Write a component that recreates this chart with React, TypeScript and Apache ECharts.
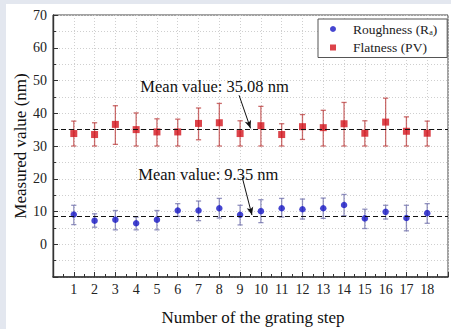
import React, { useEffect, useRef } from "react";
import * as echarts from "echarts";

const steps = [1, 2, 3, 4, 5, 6, 7, 8, 9, 10, 11, 12, 13, 14, 15, 16, 17, 18];
const flatness = [33.8, 33.5, 36.6, 35.0, 34.3, 34.3, 36.9, 37.1, 33.8, 36.2, 33.5, 35.9, 35.6, 36.8, 33.9, 37.3, 34.5, 33.9];
const flatnessHigh = [37.6, 37.1, 42.3, 40.1, 38.3, 38.2, 41.6, 43.0, 37.7, 42.1, 36.8, 39.6, 40.9, 43.3, 37.7, 44.6, 38.9, 37.6];
const flatnessLow = [30.0, 30.0, 30.5, 30.0, 30.0, 30.0, 31.9, 30.0, 30.0, 30.0, 30.0, 32.0, 30.0, 30.0, 30.0, 30.0, 30.0, 30.0];
const roughness = [9.1, 7.2, 7.5, 6.4, 7.5, 10.3, 10.3, 11.0, 9.0, 10.1, 11.0, 10.7, 11.0, 12.0, 7.9, 9.9, 8.0, 9.5];
const roughnessHigh = [11.9, 9.3, 10.3, 8.3, 10.3, 12.4, 13.2, 14.0, 11.9, 13.6, 14.0, 13.8, 14.1, 15.2, 10.7, 11.9, 11.9, 12.4];
const roughnessLow = [6.0, 5.2, 4.4, 4.4, 4.4, 8.5, 7.2, 8.0, 5.9, 6.6, 8.3, 7.7, 7.9, 8.7, 4.8, 7.7, 4.1, 6.4];

const flatMean = 35.08;
const roughMeanLine = 8.7;
const flatLabel = "Mean value: 35.08 nm";
const roughLabel = "Mean value: 9.35 nm";
const flatLabelPos = [4.2, 48.3];
const roughLabelPos = [4.1, 21.3];
const flatArrow = [[8.95, 45.5], [9.5, 35.4]];
const roughArrow = [[9.1, 20.5], [9.57, 8.9]];

const SERIF = "'Liberation Serif', 'DejaVu Serif', serif";

function errBar(color: string) {
  return (params: any, api: any) => {
    const x = api.value(0);
    const lo = api.value(1);
    const hi = api.value(2);
    const p1 = api.coord([x, hi]);
    const p2 = api.coord([x, lo]);
    const w = 2.6;
    const st = { stroke: color, lineWidth: 1.3 };
    return {
      type: "group",
      children: [
        { type: "line", shape: { x1: p1[0], y1: p1[1], x2: p2[0], y2: p2[1] }, style: st },
        { type: "line", shape: { x1: p1[0] - w, y1: p1[1], x2: p1[0] + w, y2: p1[1] }, style: st },
        { type: "line", shape: { x1: p2[0] - w, y1: p2[1], x2: p2[0] + w, y2: p2[1] }, style: st },
      ],
    };
  };
}

function meanMarks(value: number, arrow: number[][], labelPos: number[], label: string) {
  return {
    markLine: {
      silent: true,
      symbol: ["none", "none"],
      label: { show: false },
      data: [
        { yAxis: value, lineStyle: { color: "#111", type: [5, 3], width: 1.2 } },
        [
          { coord: arrow[0], symbol: "none", lineStyle: { color: "#111", type: "solid", width: 1 } },
          { coord: arrow[1], symbol: "arrow", symbolSize: [5, 8] },
        ],
      ],
    },
    markPoint: {
      silent: true,
      symbol: "circle",
      symbolSize: 0,
      data: [
        {
          coord: labelPos,
          label: {
            show: true,
            position: "right",
            distance: 0,
            formatter: label,
            fontSize: 16.5,
            fontFamily: SERIF,
            color: "#111",
          },
        },
      ],
    },
  };
}

export default function App() {
  const ref = useRef<HTMLDivElement>(null);
  useEffect(() => {
    const chart = echarts.init(ref.current!, null, { renderer: "svg" });
    const flatErrData = steps.map((s, i) => [s, flatnessLow[i], flatnessHigh[i]]);
    const roughErrData = steps.map((s, i) => [s, roughnessLow[i], roughnessHigh[i]]);
    chart.setOption({
      animation: false,
      backgroundColor: "#ffffff",
      grid: {
        left: 53,
        top: 15,
        width: 401,
        height: 262,
        show: true,
        borderColor: "#444",
        borderWidth: 1,
        backgroundColor: "#fff",
      },
      legend: {
        orient: "vertical",
        left: 318,
        top: 19,
        padding: [3, 10, 3, 12],
        itemGap: 4,
        itemWidth: 6,
        itemHeight: 6,
        borderColor: "#555",
        borderWidth: 1,
        backgroundColor: "#fff",
        data: ["Roughness (Ra)", "Flatness (PV)"],
        formatter: (name: string) =>
          name === "Roughness (Ra)" ? "{n|Roughness (R}{s|a}{n|)}" : "{n|Flatness (PV)}",
        textStyle: {
          padding: [0, 0, 0, 12],
          rich: {
            n: { fontSize: 13.5, fontFamily: SERIF, color: "#222", lineHeight: 16 },
            s: { fontSize: 8, fontFamily: SERIF, color: "#222", padding: [7, 0, 0, 0] },
          },
        },
      },
      xAxis: {
        type: "value",
        min: 0,
        max: 19,
        interval: 1,
        axisLine: { onZero: false, lineStyle: { color: "#333", width: 1.6 } },
        axisTick: { inside: true, length: 5, lineStyle: { color: "#333" } },
        minorTick: { show: true, splitNumber: 2, length: 3, lineStyle: { color: "#333" } },
        splitLine: { show: true, lineStyle: { color: "#cfcfcf", type: [1, 2] } },
        axisLabel: {
          margin: 5,
          fontSize: 14,
          fontFamily: SERIF,
          color: "#222",
          formatter: (v: number) => (v >= 1 && v <= 18 ? String(v) : ""),
        },
      },
      yAxis: {
        type: "value",
        min: -10,
        max: 70,
        interval: 10,
        axisLine: { show: true, lineStyle: { color: "#333", width: 1.4 } },
        axisTick: { show: true, inside: true, length: 5, lineStyle: { color: "#333" } },
        minorTick: { show: true, splitNumber: 2, length: 3, lineStyle: { color: "#333" } },
        splitLine: { show: true, lineStyle: { color: "#cfcfcf", type: [1, 2] } },
        minorSplitLine: { show: true, lineStyle: { color: "#cfcfcf", type: [1, 2] } },
        axisLabel: {
          margin: 6,
          fontSize: 14,
          fontFamily: SERIF,
          color: "#222",
          formatter: (v: number) => (v < 0 ? "" : String(v)),
        },
      },
      graphic: [
        { type: "rect", shape: { x: 0, y: 0, width: 6, height: 329 }, style: { fill: "#e3e7ef" }, z: 100 },
        { type: "rect", shape: { x: 0, y: 0, width: 451, height: 4 }, style: { fill: "#e3e7ef" }, z: 100 },
        {
          type: "text",
          x: 20,
          y: 146,
          rotation: Math.PI / 2,
          style: {
            text: "Measured value (nm)",
            align: "center",
            verticalAlign: "middle",
            fontSize: 17,
            fontFamily: SERIF,
            fill: "#111",
          },
        },
        {
          type: "text",
          x: 253,
          y: 317,
          style: {
            text: "Number of the grating step",
            align: "center",
            verticalAlign: "middle",
            fontSize: 17,
            fontFamily: SERIF,
            fill: "#111",
          },
        },
      ],
      series: [
        {
          type: "custom",
          name: "flatErr",
          renderItem: errBar("rgba(185,60,60,0.75)"),
          data: flatErrData,
          encode: { x: 0, y: [1, 2] },
          z: 2,
        },
        {
          type: "custom",
          name: "roughErr",
          renderItem: errBar("rgba(110,110,170,0.75)"),
          data: roughErrData,
          encode: { x: 0, y: [1, 2] },
          z: 2,
        },
        {
          type: "scatter",
          name: "Flatness (PV)",
          symbol: "rect",
          symbolSize: 7,
          itemStyle: { color: "#d3141d" },
          data: steps.map((s, i) => [s, flatness[i]]),
          z: 3,
          ...meanMarks(flatMean, flatArrow, flatLabelPos, flatLabel),
        },
        {
          type: "scatter",
          name: "Roughness (Ra)",
          symbol: "circle",
          symbolSize: 6.5,
          itemStyle: { color: "#1616c4" },
          data: steps.map((s, i) => [s, roughness[i]]),
          z: 3,
          ...meanMarks(roughMeanLine, roughArrow, roughLabelPos, roughLabel),
        },
      ],
    });
    return () => chart.dispose();
  }, []);
  return (
    <div
      ref={ref}
      style={{ position: "fixed", left: 0, top: 0, width: 451, height: 329 }}
    />
  );
}
